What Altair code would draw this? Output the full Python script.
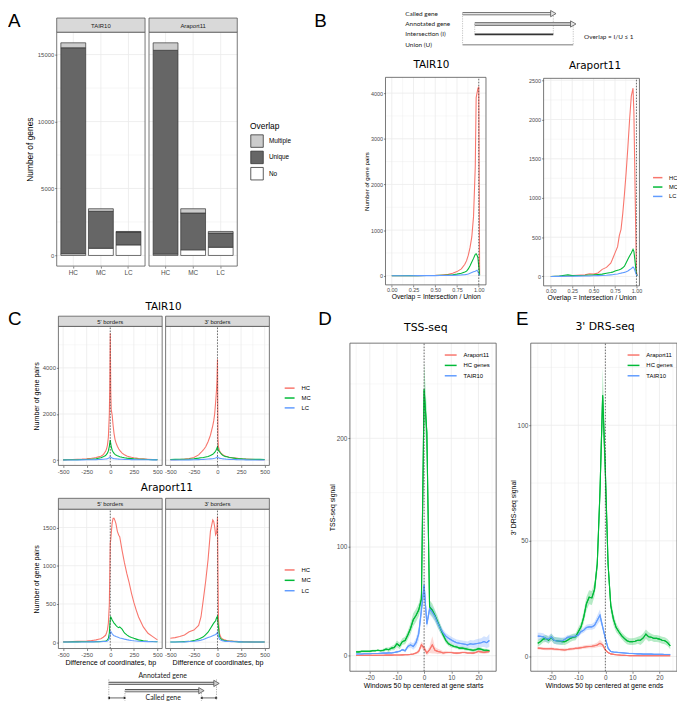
import altair as alt
import pandas as pd

# ---------------- data ----------------
A_categories = ["HC", "MC", "LC"]
A_overlap = ["Multiple", "Unique", "No"]
A_TAIR10_no = [125, 538, 789]
A_TAIR10_unique = [15384, 2758, 959]
A_TAIR10_multiple = [368, 192, 44]
A_Araport11_no = [100, 420, 612]
A_Araport11_unique = [15217, 2751, 1062]
A_Araport11_multiple = [560, 317, 118]

B_classes = ["HC", "MC", "LC"]
B_TAIR10_x = [0.00, 0.10, 0.20, 0.30, 0.40, 0.50, 0.55, 0.60, 0.65, 0.70, 0.75, 0.80,
              0.84, 0.86, 0.88, 0.90, 0.92, 0.94, 0.96, 0.97, 0.98, 0.99, 1.00, 1.01]
B_TAIR10_HC = [0, 1, 2, 3, 5, 8, 12, 20, 30, 55, 90, 150, 250, 330, 450, 620, 850, 1300, 2400, 3900, 4000, 4100, 4140, 20]
B_TAIR10_MC = [0, 1, 2, 3, 4, 6, 8, 10, 14, 20, 35, 55, 80, 100, 150, 220, 300, 380, 470, 480, 450, 400, 200, 10]
B_TAIR10_LC = [0, 1, 1, 2, 2, 3, 4, 5, 6, 8, 12, 18, 25, 30, 40, 55, 70, 85, 100, 110, 120, 90, 40, 5]
B_Araport11_x = [0.00, 0.10, 0.20, 0.25, 0.30, 0.40, 0.45, 0.50, 0.55, 0.60, 0.65, 0.70, 0.72, 0.75,
                 0.78, 0.80, 0.82, 0.84, 0.86, 0.88, 0.90, 0.92, 0.94, 0.96, 0.97, 0.98, 0.99, 1.00, 1.01]
B_Araport11_HC = [0, 2, 5, 10, 15, 20, 35, 30, 45, 90, 115, 170, 220, 300, 380, 520, 600, 800, 1050,
                  1330, 1650, 2000, 2300, 2400, 2100, 1400, 700, 60, 10]
B_Araport11_MC = [0, 5, 20, 10, 12, 15, 18, 20, 25, 30, 40, 50, 55, 70, 80, 85, 95, 110, 130, 175,
                  220, 260, 300, 345, 320, 230, 120, 30, 10]
B_Araport11_LC = [0, 1, 2, 3, 4, 5, 6, 8, 10, 12, 15, 20, 22, 28, 32, 38, 42, 48, 52, 60, 70, 85,
                  100, 120, 110, 80, 50, 20, 5]

C_x = [-500, -450, -400, -350, -300, -250, -200, -175, -150, -125, -100, -75, -50, -40, -30, -20, -10, -5,
       0, 5, 10, 20, 30, 40, 50, 60, 75, 90, 100, 125, 150, 175, 200, 225, 250, 275, 300, 350, 400, 450, 500]
C_TAIR10_5p_HC = [10, 15, 25, 35, 45, 60, 80, 95, 110, 140, 170, 230, 380, 480, 650, 1000, 2000, 3300, 5500, 3000,
                  2200, 1950, 1500, 1150, 900, 760, 600, 480, 420, 300, 230, 180, 150, 120, 100, 85, 70, 55, 40, 25, 15]
C_TAIR10_5p_MC = [10, 12, 15, 18, 25, 30, 40, 50, 60, 80, 100, 140, 200, 250, 300, 400, 600, 750, 870, 700,
                  600, 430, 350, 290, 250, 220, 190, 165, 150, 120, 100, 85, 75, 65, 55, 50, 40, 32, 28, 22, 20]
C_TAIR10_5p_LC = [5, 6, 7, 8, 10, 12, 15, 17, 20, 25, 30, 38, 50, 55, 62, 80, 110, 130, 150, 130,
                  110, 90, 75, 65, 60, 55, 48, 43, 40, 35, 30, 27, 25, 22, 20, 18, 16, 14, 12, 11, 10]
C_TAIR10_3p_HC = [14, 18, 28, 45, 71, 113, 227, 330, 440, 581, 794, 1078, 1500, 1700, 2000, 2500, 3064, 3500, 4370, 936,
                  581, 420, 340, 290, 255, 220, 190, 165, 156, 125, 105, 95, 85, 70, 60, 50, 43, 33, 25, 18, 14]
C_TAIR10_3p_MC = [28, 30, 34, 38, 43, 60, 85, 100, 115, 135, 156, 200, 255, 290, 330, 397, 470, 530, 580, 480,
                  420, 369, 320, 270, 227, 200, 170, 150, 142, 115, 100, 85, 71, 62, 55, 48, 43, 38, 33, 30, 28]
C_TAIR10_3p_LC = [5, 6, 7, 8, 10, 14, 20, 24, 30, 38, 45, 52, 60, 70, 80, 95, 115, 130, 150, 120,
                  100, 85, 75, 68, 60, 55, 48, 42, 40, 33, 28, 24, 20, 17, 14, 12, 10, 8, 7, 6, 5]
C_Araport11_5p_HC = [5, 6, 8, 10, 12, 15, 20, 25, 30, 38, 45, 65, 90, 120, 160, 250, 500, 900, 1300, 1340,
                     1420, 1560, 1620, 1620, 1590, 1550, 1450, 1400, 1380, 1200, 1040, 900, 780, 640, 520, 420, 330, 200, 116, 73, 30]
C_Araport11_5p_MC = [3, 3, 4, 4, 5, 5, 6, 6, 7, 7, 8, 12, 15, 20, 30, 50, 120, 220, 300, 330,
                     320, 290, 270, 250, 235, 220, 200, 190, 200, 170, 120, 95, 75, 62, 50, 40, 30, 18, 12, 8, 6]
C_Araport11_5p_LC = [2, 2, 2, 3, 3, 3, 4, 4, 5, 5, 6, 8, 10, 12, 15, 25, 50, 80, 110, 140,
                     130, 110, 95, 85, 80, 75, 68, 60, 55, 48, 40, 33, 27, 22, 18, 15, 12, 9, 7, 5, 5]
C_Araport11_3p_HC = [52, 60, 73, 95, 137, 159, 220, 330, 560, 800, 1080, 1450, 1600, 1580, 1510, 1405, 1430, 1500, 1640, 900,
                     300, 120, 80, 55, 45, 38, 30, 25, 20, 16, 14, 12, 10, 8, 7, 6, 5, 4, 3, 3, 3]
C_Araport11_3p_MC = [2, 3, 5, 7, 10, 20, 40, 55, 70, 100, 130, 180, 230, 250, 265, 280, 320, 330, 340, 250,
                     200, 80, 55, 40, 32, 27, 20, 17, 15, 12, 10, 8, 5, 4, 4, 3, 3, 2, 2, 2, 2]
C_Araport11_3p_LC = [2, 2, 3, 4, 8, 12, 20, 27, 35, 48, 60, 72, 85, 90, 95, 100, 110, 120, 130, 110,
                     80, 40, 30, 25, 20, 17, 14, 11, 10, 8, 7, 6, 5, 4, 4, 3, 3, 2, 2, 2, 2]

DE_groups = ["Araport11", "HC genes", "TAIR10"]
DE_windows = list(range(-25, 25))
D_Araport11 = [0.2, 0.2, 0.3, 0.3, 0.3, 0.3, 0.3, 0.3, 0.4, 0.4, 0.4, 0.5, 0.5, 0.5, 0.6, 0.6, 0.7, 0.8, 0.9, 1.0,
               1.2, 1.5, 2.4, 4, 10, 7, 2.5, 5.5, 10, 5, 4, 3.5, 2.5, 3, 3, 3, 2.5, 2.4, 2.5, 3,
               3, 2.5, 2.5, 2.4, 3, 4, 3.5, 3, 3.5, 4]
D_HC = [3.5, 3.5, 4, 4, 4, 4, 4.5, 4.5, 5, 4.5, 5, 6, 5.5, 7, 7.5, 11, 9, 13, 14, 19,
        25, 33, 37, 42, 52, 245, 205, 45, 42, 37, 31, 25, 19, 14, 11, 9.5, 8.5, 8, 7, 7,
        6.5, 6, 5.5, 5, 5.5, 6.5, 6, 5, 5, 4.5]
D_TAIR10 = [1.5, 1.5, 1.5, 1.8, 1.8, 1.8, 2, 2, 2, 2.2, 2.4, 2.4, 2.6, 2.5, 3, 3.5, 4, 5.5, 4.5, 8.5,
            10, 8.5, 12, 20, 42, 65, 29, 43, 40, 36, 30, 25, 21, 18, 16, 14.5, 13, 12, 11.5, 11,
            10.5, 10, 11, 10.5, 11, 11.5, 12, 13, 12, 14]
D_Araport11_ci = [0.3, 0.3, 0.3, 0.3, 0.3, 0.3, 0.3, 0.3, 0.3, 0.3, 0.3, 0.3, 0.3, 0.3, 0.3, 0.3, 0.3, 0.3, 0.3, 0.3,
                  0.5, 0.7, 1, 2, 3, 3, 2, 3, 8, 3, 2.5, 2, 1.5, 1.5, 1, 1, 1, 1, 1, 1,
                  1, 1, 1, 1, 1, 1.5, 1.5, 1.5, 1.5, 1.5]
D_HC_ci = [1, 1, 1, 1, 1, 1, 1, 1, 1, 1, 1.5, 1.5, 2, 2, 2.5, 3, 3, 3, 3.5, 4,
           5, 6, 6, 6, 7, 25, 20, 6, 6, 5, 5, 4, 3, 2.5, 2, 2, 1.5, 1.5, 1.5, 1.5,
           1.5, 1.5, 1.5, 1.5, 1.5, 1.5, 1.5, 1.5, 1.5, 1.5]
D_TAIR10_ci = [0.5, 0.5, 0.5, 0.5, 0.5, 0.5, 0.5, 0.5, 0.5, 0.5, 0.8, 0.8, 0.8, 0.8, 0.8, 0.8, 0.8, 0.8, 1.5, 2,
               2.5, 3, 4, 6, 8, 10, 4, 5, 5, 5, 4, 4, 3, 3, 3, 3, 3, 3, 3, 3,
               3, 3, 3.5, 3.5, 4, 4, 4, 5, 5, 6]
E_Araport11 = [3.6, 3.5, 3.4, 3.3, 3.3, 3.4, 3.2, 3.1, 3.0, 2.9, 2.8, 3.0, 3.2, 3.3, 3.5, 3.6, 3.8, 4.0, 4.2, 4.3,
               4.4, 4.6, 5.0, 5.7, 5.0, 2.8, 1.7, 1.1, 0.9, 0.7, 0.6, 0.5, 0.45, 0.4, 0.35, 0.35, 0.35, 0.35, 0.3, 0.3,
               0.3, 0.3, 0.3, 0.3, 0.3, 0.3, 0.3, 0.3, 0.3, 0.3]
E_HC = [5.7, 6.4, 7.5, 7.8, 7, 8.3, 7, 6.8, 6.6, 6.4, 6.4, 7, 7.8, 8.3, 8.5, 10.7, 12.8, 17, 22.8, 25.6,
        25.3, 29, 40, 71, 113, 80, 40, 22, 16, 12.5, 10.7, 9, 7.8, 6.8, 6.4, 6.4, 6.6, 7, 7, 8,
        9.7, 8.5, 8.3, 7.8, 7.8, 7.5, 7, 6.8, 6, 4.6]
E_TAIR10 = [8.8, 8.7, 8.5, 7.8, 7.5, 8.5, 7, 6.7, 6.7, 6.7, 7.4, 8.3, 8.4, 8.5, 8.8, 9.3, 10.7, 11.4, 12.5, 12.8,
            12.8, 13.5, 15.7, 17.8, 12.8, 7.8, 3.6, 2.1, 1.9, 1.8, 1.7, 1.6, 1.5, 1.4, 1.3, 1.3, 1.2, 1.1, 1.1, 1.0,
            1.0, 1.0, 1.0, 0.9, 0.9, 0.9, 0.9, 0.85, 0.85, 0.85]
E_Araport11_ci = [0.6, 0.6, 0.6, 0.6, 0.6, 0.6, 0.6, 0.6, 0.6, 0.6, 0.6, 0.6, 0.6, 0.6, 0.6, 0.6, 0.7, 0.7, 0.8, 0.8,
                  0.8, 0.9, 1, 1.5, 1, 0.6, 0.3, 0.2, 0.2, 0.2, 0.2, 0.2, 0.2, 0.2, 0.2, 0.2, 0.2, 0.2, 0.2, 0.2,
                  0.2, 0.2, 0.2, 0.2, 0.2, 0.2, 0.2, 0.2, 0.2, 0.2]
E_HC_ci = [1.5, 1.5, 1.5, 1.5, 1.5, 1.5, 1.5, 1.5, 1.5, 1.5, 1.5, 1.5, 1.5, 1.5, 1.5, 1.8, 2, 2.5, 3, 3,
           3, 3, 4, 5, 12, 8, 4, 3, 2.5, 2, 1.5, 1.5, 1.5, 1.5, 1.5, 1.5, 1.5, 1.5, 2, 2,
           2, 2, 1.5, 1.5, 1.5, 1.5, 1.5, 1.5, 1.5, 1.5]
E_TAIR10_ci = [1.5, 1.5, 1.5, 1.5, 1.5, 1.5, 1.5, 1.5, 1.5, 1.5, 1, 1, 1, 1, 1, 1, 1, 1.2, 1.2, 1.2,
               1.2, 1.5, 2, 2.5, 1.5, 1, 0.5, 0.3, 0.3, 0.3, 0.3, 0.3, 0.3, 0.3, 0.3, 0.3, 0.3, 0.3, 0.3, 0.3,
               0.3, 0.3, 0.3, 0.3, 0.3, 0.3, 0.3, 0.3, 0.3, 0.3]

SB_rows = ["Called gene", "Annotated gene", "Intersection (I)", "Union (U)"]
SB_start = [0, 11, 11, 0]
SB_end = [82, 100, 82, 100]
SC_rows = ["Annotated gene", "Called gene"]
SC_start = [0, 15]
SC_end = [100, 86]

# ---------------- styling / layout ----------------
W, H = 677, 699
SANS = "Liberation Sans"
DEJA = "DejaVu Sans"
SCH = "Lato"
GRID = "#EBEBEB"
FRAME = "#555555"
TICK = "#333333"
LAB = "#4D4D4D"
HUE = ["#F8766D", "#00BA38", "#619CFF"]
ONE = pd.DataFrame({"k": [0]})
INT_LABEL = "'' + datum.value"


def sc(dom, rng):
    return alt.Scale(domain=list(dom), range=list(rng), nice=False, zero=False)


def ax_b(bottom, values=None, title=None, fmt=None, ints=True, lsize=6.0, tsize=7.0, tpad=1.0, lpad=1.0):
    kw = dict(orient="bottom", offset=bottom - H, grid=False, domain=False,
              tickSize=2.0, tickColor=TICK, tickWidth=0.6, labelAngle=0,
              labelFont=SANS, labelFontSize=lsize, labelColor=LAB, labelPadding=lpad,
              labelFlush=False, labelOverlap=False,
              titleFont=SANS, titleFontSize=tsize, titleFontWeight="normal",
              titleColor="#000000", titlePadding=tpad, title=title)
    if values is not None:
        kw["values"] = values
    if fmt:
        kw["format"] = fmt
    elif ints:
        kw["labelExpr"] = INT_LABEL
    return alt.Axis(**kw)


def ax_l(left, values, title=None, lsize=6.0, tsize=7.0, tpad=2.0, lpad=1.0):
    return alt.Axis(orient="left", offset=-left, values=values, grid=False, domain=False,
                    tickSize=2.0, tickColor=TICK, tickWidth=0.6,
                    labelFont=SANS, labelFontSize=lsize, labelColor=LAB, labelPadding=lpad,
                    labelFlush=False, labelOverlap=False, labelExpr=INT_LABEL,
                    titleFont=SANS, titleFontSize=tsize, titleFontWeight="normal",
                    titleColor="#000000", titlePadding=tpad, title=title)


def grids(xs, ys, xa, ya, xdom, ydom, xmaj, xmin, ymaj, ymin):
    out = []
    for vals, w in ((xmin, 0.4), (xmaj, 0.8)):
        if vals:
            df = pd.DataFrame({"v": vals, "lo": [ydom[0]] * len(vals), "hi": [ydom[1]] * len(vals)})
            out.append(alt.Chart(df).mark_rule(color=GRID, strokeWidth=w).encode(
                x=alt.X("v:Q", scale=xs, axis=xa),
                y=alt.Y("lo:Q", scale=ys, axis=ya), y2="hi:Q"))
    for vals, w in ((ymin, 0.4), (ymaj, 0.8)):
        if vals:
            df = pd.DataFrame({"v": vals, "lo": [xdom[0]] * len(vals), "hi": [xdom[1]] * len(vals)})
            out.append(alt.Chart(df).mark_rule(color=GRID, strokeWidth=w).encode(
                y=alt.Y("v:Q", scale=ys, axis=ya),
                x=alt.X("lo:Q", scale=xs, axis=xa), x2="hi:Q"))
    return out


def frame(xs, ys, xa, ya, xdom, ydom):
    df = pd.DataFrame({"x0": [xdom[0]], "x1": [xdom[1]], "y0": [ydom[0]], "y1": [ydom[1]]})
    return alt.Chart(df).mark_rect(fill="transparent", stroke=FRAME, strokeWidth=0.8).encode(
        x=alt.X("x0:Q", scale=xs, axis=xa), x2="x1:Q",
        y=alt.Y("y0:Q", scale=ys, axis=ya), y2="y1:Q")


def vline(xs, ys, xa, ya, v, ydom):
    df = pd.DataFrame({"v": [v], "lo": [ydom[0]], "hi": [ydom[1]]})
    return alt.Chart(df).mark_rule(color="#333333", strokeWidth=0.7, strokeDash=[1.5, 1.5]).encode(
        x=alt.X("v:Q", scale=xs, axis=xa), y=alt.Y("lo:Q", scale=ys, axis=ya), y2="hi:Q")


def txt(s, x, y, size, font=SANS, align="center", baseline="middle", color="#000000"):
    return alt.Chart(pd.DataFrame({"t": [s]})).mark_text(
        fontSize=size, font=font, align=align, baseline=baseline, color=color).encode(
        text="t:N", x=alt.value(x), y=alt.value(y))


def strip(x0, x1, y0, y1, s, size=6.0):
    r = alt.Chart(ONE).mark_rect(fill="#D9D9D9", stroke=FRAME, strokeWidth=0.8).encode(
        x=alt.value(x0), x2=alt.value(x1), y=alt.value(y0), y2=alt.value(y1))
    return [r, txt(s, (x0 + x1) / 2, (y0 + y1) / 2 + 0.5, size, color="#1A1A1A")]


def line_legend(lx, ly, size=100, rowpad=1.0, lsize=6.0):
    return alt.Legend(orient="none", legendX=lx, legendY=ly, title=None, symbolType="stroke",
                      symbolSize=size, symbolStrokeWidth=1.5, labelFont=SANS, labelFontSize=lsize,
                      labelColor="#000000", rowPadding=rowpad, labelOffset=6)


def line_panel(xv, series, names, xdom, ydom, xr, yr, xa, ya, legend, gx, gy, vx, width=1.1):
    xs = sc(xdom, xr)
    ys = sc(ydom, yr)
    rows = []
    for nm, vals in zip(names, series):
        for a, b in zip(xv, vals):
            rows.append({"x": a, "n": b, "cls": nm})
    df = pd.DataFrame(rows)
    parts = grids(xs, ys, xa, ya, xdom, ydom, gx[0], gx[1], gy[0], gy[1])
    parts.append(alt.Chart(df).mark_line(strokeWidth=width).encode(
        x=alt.X("x:Q", scale=xs, axis=xa),
        y=alt.Y("n:Q", scale=ys, axis=ya),
        color=alt.Color("cls:N", scale=alt.Scale(domain=names, range=HUE), legend=legend)))
    parts.append(vline(xs, ys, xa, ya, vx, ydom))
    parts.append(frame(xs, ys, xa, ya, xdom, ydom))
    return alt.layer(*parts)


def signal_panel(vals, cis, xdom, ydom, xr, yr, xa, ya, legend, gx, gy):
    xs = sc(xdom, xr)
    ys = sc(ydom, yr)
    rows = []
    for nm, v, c in zip(DE_groups, vals, cis):
        for a, b, e in zip(DE_windows, v, c):
            rows.append({"x": a, "v": b, "lo": b - e, "hi": b + e, "grp": nm})
    df = pd.DataFrame(rows)
    cs = alt.Scale(domain=DE_groups, range=HUE)
    parts = grids(xs, ys, xa, ya, xdom, ydom, gx[0], gx[1], gy[0], gy[1])
    # line carrying the legend first (so the merged legend stays enabled)
    parts.append(alt.Chart(df).mark_line(strokeWidth=1.1).encode(
        x=alt.X("x:Q", scale=xs, axis=xa),
        y=alt.Y("v:Q", scale=ys, axis=ya),
        color=alt.Color("grp:N", scale=cs, legend=legend)))
    parts.append(alt.Chart(df).mark_area(opacity=0.28).encode(
        x=alt.X("x:Q", scale=xs, axis=xa),
        y=alt.Y("lo:Q", scale=ys, axis=ya), y2="hi:Q",
        color=alt.Color("grp:N", scale=cs, legend=None)))
    parts.append(alt.Chart(df).mark_line(strokeWidth=1.1).encode(
        x=alt.X("x:Q", scale=xs, axis=xa),
        y=alt.Y("v:Q", scale=ys, axis=ya),
        color=alt.Color("grp:N", scale=cs, legend=None)))
    parts.append(vline(xs, ys, xa, ya, 0, ydom))
    parts.append(frame(xs, ys, xa, ya, xdom, ydom))
    return alt.layer(*parts)


layers = []

# ---------------- Panel A ----------------
A_yd = [-794, 16671]
A_ybot, A_ytop = 257.0, 20.3
A_fill = ["#CCCCCC", "#666666", "#FFFFFF"]
A_ymaj = [0, 5000, 10000, 15000]
A_ymin = [2500, 7500, 12500]
A_panels = [("TAIR10", A_TAIR10_no, A_TAIR10_unique, A_TAIR10_multiple, 49.3, 138.7, True),
            ("Araport11", A_Araport11_no, A_Araport11_unique, A_Araport11_multiple, 142.7, 232.0, False)]
for name, no, uni, mul, x0, x1, first in A_panels:
    xs = alt.Scale(type="band", domain=A_categories, range=[x0, x1], paddingInner=0.1, paddingOuter=0.15)
    ys = sc(A_yd, [A_ybot, A_ytop])
    xa = ax_b(A_ybot, ints=False, lsize=6.5, lpad=2.0)
    ya = ax_l(x0, A_ymaj, title="Number of genes", lsize=6.0, tsize=8.5, tpad=3.0) if first else None
    rows = []
    for i, c in enumerate(A_categories):
        rows.append({"cat": c, "overlap": "No", "n": no[i], "ord": 0})
        rows.append({"cat": c, "overlap": "Unique", "n": uni[i], "ord": 1})
        rows.append({"cat": c, "overlap": "Multiple", "n": mul[i], "ord": 2})
    df = pd.DataFrame(rows)
    parts = []
    for vals, w in ((A_ymin, 0.4), (A_ymaj, 0.8)):
        parts.append(alt.Chart(pd.DataFrame({"v": vals})).mark_rule(color=GRID, strokeWidth=w).encode(
            y=alt.Y("v:Q", scale=ys, axis=ya), x=alt.value(x0), x2=alt.value(x1)))
    gv = pd.DataFrame({"cat": A_categories, "lo": [A_yd[0]] * 3, "hi": [A_yd[1]] * 3})
    parts.append(alt.Chart(gv).mark_rule(color=GRID, strokeWidth=0.8).encode(
        x=alt.X("cat:N", scale=xs, axis=xa), y=alt.Y("lo:Q", scale=ys, axis=ya), y2="hi:Q"))
    if first:
        leg = alt.Legend(orient="none", legendX=245, legendY=111, title="Overlap", titleFont=SANS,
                         titleFontSize=8.5, titleFontWeight="normal", titleColor="#000000", titlePadding=4,
                         labelFont=SANS, labelFontSize=6.5, labelColor="#000000", symbolType="square",
                         symbolSize=160, symbolStrokeColor="#333333", symbolStrokeWidth=0.8,
                         rowPadding=0.5, labelOffset=5)
    else:
        leg = None
    parts.append(alt.Chart(df).mark_bar(stroke="#333333", strokeWidth=0.7).encode(
        x=alt.X("cat:N", scale=xs, axis=xa),
        y=alt.Y("n:Q", stack="zero", scale=ys, axis=ya),
        color=alt.Color("overlap:N", scale=alt.Scale(domain=A_overlap, range=A_fill), legend=leg),
        order=alt.Order("ord:Q")))
    fr = pd.DataFrame({"y0": [A_yd[0]], "y1": [A_yd[1]]})
    parts.append(alt.Chart(fr).mark_rect(fill="transparent", stroke=FRAME, strokeWidth=0.8).encode(
        x=alt.value(x0), x2=alt.value(x1), y=alt.Y("y0:Q", scale=ys, axis=ya), y2="y1:Q"))
    layers.append(alt.layer(*parts))
    layers += strip(x0, x1, 6.0, A_ytop, name)

# ---------------- Panel B ----------------
B_xmaj = ([0, 0.25, 0.5, 0.75, 1.0], [0.125, 0.375, 0.625, 0.875])
B_T_yd = [-200, 4345]
B_A_yd = [-120, 2525]
layers.append(line_panel(
    B_TAIR10_x, [B_TAIR10_HC, B_TAIR10_MC, B_TAIR10_LC], B_classes,
    [-0.072, 1.083], B_T_yd, [382, 483.7], [276, 66],
    ax_b(276, [0, 0.25, 0.5, 0.75, 1.0], "Overlap = Intersection / Union", fmt=".2f", lsize=5.5, tsize=6.8, tpad=0.5),
    ax_l(382, [0, 1000, 2000, 3000, 4000], "Number of gene pairs", lsize=5.5, tsize=6.2, tpad=1.0),
    None, B_xmaj, ([0, 1000, 2000, 3000, 4000], [500, 1500, 2500, 3500]), 1.0))
layers.append(line_panel(
    B_Araport11_x, [B_Araport11_HC, B_Araport11_MC, B_Araport11_LC], B_classes,
    [-0.084, 1.035], B_A_yd, [542, 639], [277, 67],
    ax_b(277, [0, 0.25, 0.5, 0.75, 1.0], "Overlap = Intersection / Union", fmt=".2f", lsize=5.5, tsize=6.8, tpad=0.5),
    ax_l(542, [0, 500, 1000, 1500, 2000, 2500], None, lsize=5.5),
    line_legend(652, 162, size=90, rowpad=0.5, lsize=5.8),
    B_xmaj, ([0, 500, 1000, 1500, 2000, 2500], [250, 750, 1250, 1750, 2250]), 1.0))
layers.append(txt("TAIR10", 428.5, 54, 10.5, font=DEJA))
layers.append(txt("Araport11", 594, 55, 10.5, font=DEJA))

# schematic B
sbx = sc([0, 100], [460, 572])
sby = sc([0, 3], [1.5, 33])
dfB = pd.DataFrame({"row": [0, 1, 2, 3], "s": SB_start, "e": SB_end, "label": SB_rows})
gB = pd.DataFrame({"x": [SB_start[0], SB_start[1], SB_end[0], SB_end[1]], "r0": [0, 1, 0, 1], "r1": [3, 2, 2, 3]})
arrB = dfB[dfB["row"] < 2]
sparts = [
    alt.Chart(gB).mark_rule(color="#9A9A9A", strokeWidth=0.6, strokeDash=[1.2, 1.2]).encode(
        x=alt.X("x:Q", scale=sbx, axis=None), y=alt.Y("r0:Q", scale=sby, axis=None), y2="r1:Q"),
    alt.Chart(dfB[dfB["row"] == 3]).mark_rule(color="#A6A6A6", strokeWidth=1.6).encode(
        x=alt.X("s:Q", scale=sbx, axis=None), x2="e:Q", y=alt.Y("row:Q", scale=sby, axis=None)),
    alt.Chart(dfB[dfB["row"] == 2]).mark_rule(color="#333333", strokeWidth=2.0).encode(
        x=alt.X("s:Q", scale=sbx, axis=None), x2="e:Q", y=alt.Y("row:Q", scale=sby, axis=None)),
    alt.Chart(arrB).mark_rule(color="#555555", strokeWidth=3.4).encode(
        x=alt.X("s:Q", scale=sbx, axis=None), x2="e:Q", y=alt.Y("row:Q", scale=sby, axis=None)),
    alt.Chart(arrB).mark_rule(color="#E6E6E6", strokeWidth=1.6).encode(
        x=alt.X("s:Q", scale=sbx, axis=None), x2="e:Q", y=alt.Y("row:Q", scale=sby, axis=None)),
    alt.Chart(arrB).mark_point(shape="triangle-right", size=40, filled=True, fill="#E6E6E6",
                               stroke="#555555", strokeWidth=0.8, opacity=1).encode(
        x=alt.X("e:Q", scale=sbx, axis=None), y=alt.Y("row:Q", scale=sby, axis=None)),
    alt.Chart(dfB).mark_text(align="left", baseline="middle", font=SCH, fontSize=6.5, color="#222222").encode(
        text="label:N", x=alt.value(402), y=alt.Y("row:Q", scale=sby, axis=None)),
]
layers.append(alt.layer(*sparts))
layers.append(txt("Overlap = I/U \u2264 1", 583, 25, 6.5, font=SCH, align="left", color="#222222"))

# ---------------- Panel C ----------------
C_g = ([-500, -250, 0, 250, 500], [-375, -125, 125, 375])
C_xd = [-550, 550]
C_T_yd = [-230, 5800]
C_A_yd = [-83, 1740]
C_T_y = ([0, 2000, 4000], [1000, 3000, 5000])
C_A_y = ([0, 500, 1000, 1500], [250, 750, 1250])
C_T_r = [458.7, 318]
C_A_r = [644, 503]
C_xt = "Difference of coordinates, bp"
layers.append(line_panel(C_x, [C_TAIR10_5p_HC, C_TAIR10_5p_MC, C_TAIR10_5p_LC], B_classes,
                         C_xd, C_T_yd, [51, 156], C_T_r,
                         ax_b(C_T_r[0], C_g[0], None, lsize=6.0),
                         ax_l(51, C_T_y[0], "Number of gene pairs", lsize=6.0, tsize=7.2, tpad=2.0),
                         line_legend(279, 374.5, size=100, rowpad=1.0, lsize=6.0), C_g, C_T_y, 0))
layers.append(line_panel(C_x, [C_TAIR10_3p_HC, C_TAIR10_3p_MC, C_TAIR10_3p_LC], B_classes,
                         C_xd, C_T_yd, [159.5, 264.5], C_T_r,
                         ax_b(C_T_r[0], C_g[0], None, lsize=6.0), None, None, C_g, C_T_y, 0))
layers.append(line_panel(C_x, [C_Araport11_5p_HC, C_Araport11_5p_MC, C_Araport11_5p_LC], B_classes,
                         C_xd, C_A_yd, [51, 156], C_A_r,
                         ax_b(C_A_r[0], C_g[0], C_xt, lsize=6.0, tsize=7.2, tpad=1.0),
                         ax_l(51, C_A_y[0], "Number of gene pairs", lsize=6.0, tsize=7.2, tpad=2.0),
                         line_legend(279, 558.5, size=100, rowpad=1.5, lsize=6.0), C_g, C_A_y, 0))
layers.append(line_panel(C_x, [C_Araport11_3p_HC, C_Araport11_3p_MC, C_Araport11_3p_LC], B_classes,
                         C_xd, C_A_yd, [159.5, 264.5], C_A_r,
                         ax_b(C_A_r[0], C_g[0], C_xt, lsize=6.0, tsize=7.2, tpad=1.0), None, None, C_g, C_A_y, 0))
layers += strip(51, 156, 307.7, 318, "5' borders")
layers += strip(159.5, 264.5, 307.7, 318, "3' borders")
layers += strip(51, 156, 492, 503, "5' borders")
layers += strip(159.5, 264.5, 492, 503, "3' borders")
layers.append(txt("TAIR10", 157.3, 298.5, 10.5, font=DEJA))
layers.append(txt("Araport11", 160.8, 482, 10.5, font=DEJA))

# schematic C
scx = sc([0, 100], [102, 211])
scy = sc([0, 3], [672, 694])
arrC = pd.DataFrame({"row": [1, 2], "s": SC_start, "e": SC_end})
labC = pd.DataFrame({"row": [0, 3], "m": [(SC_start[0] + SC_end[0]) / 2, (SC_start[1] + SC_end[1]) / 2],
                     "label": SC_rows})
gC = pd.DataFrame({"x": [SC_start[0], SC_end[0], SC_start[1], SC_end[1]],
                   "r0": [0.45, 0.45, 2, 2], "r1": [3.4, 3.4, 3.4, 3.4]})
dbl = pd.DataFrame({"s": [SC_start[0], SC_end[1]], "e": [SC_start[1], SC_end[0]], "row": [3, 3]})
cparts = [
    alt.Chart(gC).mark_rule(color="#777777", strokeWidth=0.6, strokeDash=[1.2, 1.2]).encode(
        x=alt.X("x:Q", scale=scx, axis=None), y=alt.Y("r0:Q", scale=scy, axis=None), y2="r1:Q"),
    alt.Chart(arrC).mark_rule(color="#555555", strokeWidth=3.4).encode(
        x=alt.X("s:Q", scale=scx, axis=None), x2="e:Q", y=alt.Y("row:Q", scale=scy, axis=None)),
    alt.Chart(arrC).mark_rule(color="#CFCFCF", strokeWidth=1.6).encode(
        x=alt.X("s:Q", scale=scx, axis=None), x2="e:Q", y=alt.Y("row:Q", scale=scy, axis=None)),
    alt.Chart(arrC).mark_point(shape="triangle-right", size=40, filled=True, fill="#CFCFCF",
                               stroke="#555555", strokeWidth=0.8, opacity=1).encode(
        x=alt.X("e:Q", scale=scx, axis=None), y=alt.Y("row:Q", scale=scy, axis=None)),
    alt.Chart(dbl).mark_rule(color="#222222", strokeWidth=0.7).encode(
        x=alt.X("s:Q", scale=scx, axis=None), x2="e:Q", y=alt.Y("row:Q", scale=scy, axis=None)),
    alt.Chart(dbl).mark_point(shape="triangle-left", size=8, filled=True, color="#222222", opacity=1).encode(
        x=alt.X("s:Q", scale=scx, axis=None), y=alt.Y("row:Q", scale=scy, axis=None)),
    alt.Chart(dbl).mark_point(shape="triangle-right", size=8, filled=True, color="#222222", opacity=1).encode(
        x=alt.X("e:Q", scale=scx, axis=None), y=alt.Y("row:Q", scale=scy, axis=None)),
    alt.Chart(labC).mark_text(align="center", baseline="middle", font=SCH, fontSize=7, color="#222222").encode(
        text="label:N", x=alt.X("m:Q", scale=scx, axis=None), y=alt.Y("row:Q", scale=scy, axis=None)),
]
layers.append(alt.layer(*cparts))

# ---------------- Panels D and E ----------------
DE_gx = ([-20, -10, 0, 10, 20], [-25, -15, -5, 5, 15, 25])
layers.append(signal_panel([D_Araport11, D_HC, D_TAIR10], [D_Araport11_ci, D_HC_ci, D_TAIR10_ci],
                           [-27.3, 26.5], [-14.3, 287.5], [346, 494], [667, 335],
                           ax_b(667, [-20, -10, 0, 10, 20], "Windows 50 bp centered at gene starts",
                                lsize=6.5, tsize=7.0, tpad=1.0),
                           ax_l(346, [0, 100, 200], "TSS-seq signal", lsize=6.5, tsize=7.0, tpad=1.0),
                           line_legend(441, 340, size=144, rowpad=0.5, lsize=6.0),
                           DE_gx, ([0, 100, 200], [50, 150, 250])))
layers.append(signal_panel([E_Araport11, E_HC, E_TAIR10], [E_Araport11_ci, E_HC_ci, E_TAIR10_ci],
                           [-27.6, 26.5], [-6.4, 135.5], [529, 677], [667, 335],
                           ax_b(667, [-20, -10, 0, 10, 20], "Windows 50 bp centered at gene ends",
                                lsize=6.5, tsize=7.0, tpad=1.0),
                           ax_l(529, [0, 50, 100], "3' DRS-seq signal", lsize=6.5, tsize=7.0, tpad=1.0),
                           line_legend(626, 340, size=144, rowpad=0.5, lsize=6.0),
                           DE_gx, ([0, 50, 100], [25, 75, 125])))
layers.append(txt("TSS-seq", 422.8, 319.3, 11, font=DEJA))
layers.append(txt("3' DRS-seq", 604.2, 319.0, 11, font=DEJA))

# ---------------- panel letters ----------------
for letter, lx, ly in (("A", 0, 15), ("B", 310, 15), ("C", 0, 317), ("D", 314, 317), ("E", 514, 317)):
    layers.append(txt(letter, lx, ly, 19, align="left", baseline="alphabetic"))

chart = alt.layer(*layers).resolve_scale(
    x="independent", y="independent", color="independent"
).properties(
    width=W, height=H, padding=0, autosize=alt.AutoSizeParams(type="none"), background="white"
).configure_view(stroke=None)

chart.save("out.html", embed_options={"renderer": "svg", "actions": False})
